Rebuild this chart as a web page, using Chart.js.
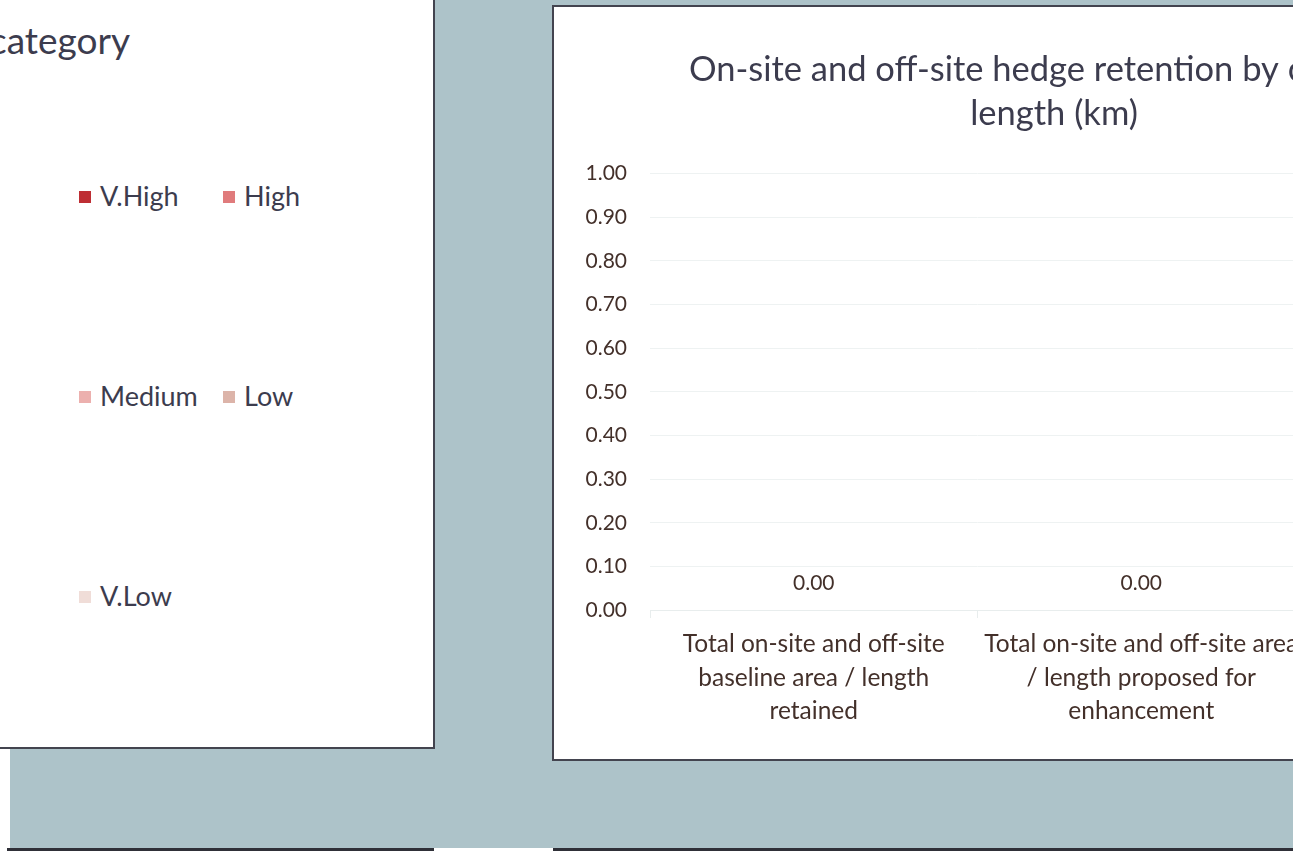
<!DOCTYPE html>
<html>
<head>
<meta charset="utf-8">
<script src="https://cdn.jsdelivr.net/npm/chart.js@4/dist/chart.umd.min.js"></script>
<style>
  html, body { margin: 0; padding: 0; background: #fff; width: 1303px; height: 855px; overflow: hidden; }
  .clip { position: absolute; left: 0; top: 0; width: 1293px; height: 855px; overflow: hidden; }
  .sheet { position: absolute; left: 10px; top: 0; width: 1283px; height: 848px; background: #adc3c9; }
  .stub { position: absolute; top: 848px; height: 3px; background: #2f3038; }
  .panel { position: absolute; background: #fff; border: 2px solid #43444f; box-sizing: border-box; }
  #left { left: -60px; top: -10px; width: 495px; height: 759px; }
  #right { left: 552px; top: 5px; width: 1004px; height: 756px; }
  .ltitle { position: absolute; right: 303px; top: 25px; font: 37px Lato, "Open Sans", sans-serif; color: #3c3c4e; white-space: nowrap; }
  .leg { position: absolute; font: 27px Lato, "Open Sans", sans-serif; color: #3c3c4e; white-space: nowrap; line-height: 30px; }
  .leg i { display: inline-block; width: 12px; height: 12px; margin-right: 9px; vertical-align: 3px; }
  canvas { position: absolute; left: 0; top: 0; }
</style>
</head>
<body>
<div class="clip">
  <div class="sheet"></div>
  <div class="stub" style="left:7px;width:427px"></div>
  <div class="stub" style="left:553px;width:740px"></div>
  <div class="panel" id="left">
    <div class="ltitle">Hedge distinctiveness category</div>
    <div id="legend"></div>
  </div>
  <div class="panel" id="right">
    <canvas id="hedgeChart"></canvas>
  </div>
</div>
<script>
const categories = [
  ["Total on-site and off-site", "baseline area / length", "retained"],
  ["Total on-site and off-site area", "/ length proposed for", "enhancement"]
];
const bandNames = ["V.High", "High", "Medium", "Low", "V.Low"];
const bandColors = ["#be2e34", "#e07b7c", "#ecb0ae", "#dcb4a9", "#f0ddd8"];
const vHigh = [0, 0];
const high = [0, 0];
const medium = [0, 0];
const low = [0, 0];
const vLow = [0, 0];
const yTicks = [0, 0.1, 0.2, 0.3, 0.4, 0.5, 0.6, 0.7, 0.8, 0.9, 1.0];

const series = [vHigh, high, medium, low, vLow];
const FONT = "Lato, 'Open Sans', sans-serif";
const textBrown = "#43302a";

// left panel legend (2 columns, 3 rows like the excel one)
const legend = document.getElementById("legend");
bandNames.forEach((name, i) => {
  const d = document.createElement("div");
  d.className = "leg";
  d.style.left = (58 + 79 + (i % 2) * 144) + "px";
  d.style.top = (8 + 181 + Math.floor(i / 2) * 200) + "px";
  d.innerHTML = `<i style="background:${bandColors[i]}"></i>${name}`;
  legend.appendChild(d);
});

const ctx = document.getElementById("hedgeChart");
ctx.width = 1000;
ctx.height = 752;

// total labels above each stacked column
const totalLabels = {
  id: "totalLabels",
  afterDatasetsDraw(chart) {
    const x = chart.scales.x;
    const y = chart.scales.y;
    const c = chart.ctx;
    c.save();
    c.font = "21px " + FONT;
    c.fillStyle = textBrown;
    c.textAlign = "center";
    c.textBaseline = "middle";
    categories.forEach((cat, i) => {
      let total = 0;
      series.forEach(s => total += s[i]);
      c.fillText(total.toFixed(2), x.getPixelForValue(i), y.getPixelForValue(total) - 27);
    });
    c.restore();
  }
};

new Chart(ctx, {
  type: "bar",
  data: {
    labels: categories,
    datasets: series.map((s, i) => ({
      label: bandNames[i],
      data: s,
      backgroundColor: bandColors[i],
      borderWidth: 0,
      barPercentage: 0.6,
      categoryPercentage: 1
    }))
  },
  options: {
    responsive: false,
    animation: false,
    layout: { padding: 0 },
    plugins: {
      legend: { display: false },
      tooltip: { enabled: false },
      title: {
        display: true,
        text: ["On-site and off-site hedge retention by category", "length (km)"],
        color: "#3c3c4e",
        font: { family: FONT, size: 34.5, weight: "normal", lineHeight: 1.3 },
        padding: { top: 40, bottom: 37 }
      }
    },
    scales: {
      x: {
        stacked: true,
        grid: { drawOnChartArea: false, drawTicks: true, tickLength: 8, color: "#e8eded", offset: true },
        border: { color: "#e8eded", width: 1 },
        ticks: {
          color: textBrown,
          font: { family: FONT, size: 24.5, lineHeight: 1.35 },
          maxRotation: 0,
          autoSkip: false,
          padding: 10
        },
        afterFit(s) { s.height = 149; }
      },
      y: {
        stacked: true,
        min: yTicks[0],
        max: yTicks[yTicks.length - 1],
        afterBuildTicks(s) { s.ticks = yTicks.map(v => ({ value: v })); },
        grid: { color: "#eef2f2", drawTicks: false },
        border: { display: false },
        ticks: {
          color: textBrown,
          font: { family: FONT, size: 21 },
          padding: 23,
          callback: v => Number(v).toFixed(2)
        },
        afterFit(s) { s.width = 96; }
      },
      // empty right-hand space where excel keeps the legend (off screen)
      legendSpace: {
        position: "right",
        display: true,
        grid: { display: false },
        border: { display: false },
        ticks: { display: false },
        afterFit(s) { s.width = 249; }
      }
    }
  },
  plugins: [totalLabels]
});
</script>
</body>
</html>
